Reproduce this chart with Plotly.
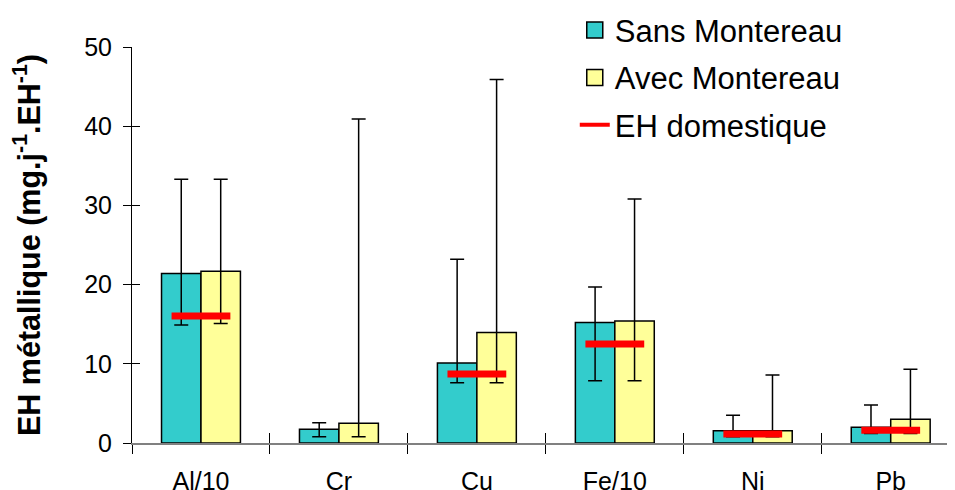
import plotly.graph_objects as go

categories = ["Al/10", "Cr", "Cu", "Fe/10", "Ni", "Pb"]
sans = [21.4, 1.75, 10.1, 15.2, 1.55, 2.0]
sans_hi = [33.3, 2.55, 23.2, 19.7, 3.5, 4.8]
sans_lo = [14.9, 0.8, 7.6, 7.85, 0.8, 1.2]
avec = [21.7, 2.5, 13.95, 15.4, 1.55, 3.0]
avec_hi = [33.3, 40.9, 45.9, 30.8, 8.6, 9.3]
avec_lo = [15.1, 0.8, 7.6, 7.85, 0.8, 1.2]
eh_dom = [16.05, None, 8.7, 12.5, 1.15, 1.6]
y_ticks = [0, 10, 20, 30, 40, 50]

FONT = "Liberation Sans, Arial, sans-serif"
TEAL = "#33CCCC"
YEL = "#FFFF99"


def err(v, hi, lo):
    return dict(type="data", symmetric=False,
                array=[h - x for h, x in zip(hi, v)],
                arrayminus=[x - l for l, x in zip(lo, v)],
                color="black", thickness=1.5, width=7)


fig = go.Figure()
fig.add_trace(go.Bar(x=categories, y=sans, name="Sans Montereau", showlegend=False,
                     marker=dict(color=TEAL, line=dict(color="black", width=1.5)),
                     error_y=err(sans, sans_hi, sans_lo)))
fig.add_trace(go.Bar(x=categories, y=avec, name="Avec Montereau", showlegend=False,
                     marker=dict(color=YEL, line=dict(color="black", width=1.5)),
                     error_y=err(avec, avec_hi, avec_lo)))
fig.add_trace(go.Scatter(x=categories, y=eh_dom, mode="markers", name="EH domestique",
                         showlegend=False,
                         marker=dict(symbol="line-ew", size=42, color="red",
                                     line=dict(color="red", width=7))))
# legend entries
fig.add_trace(go.Scatter(x=[categories[0]], y=[None], mode="markers", name="Sans Montereau",
                         legendgroup="a",
                         marker=dict(symbol="square", size=16, color=TEAL,
                                     line=dict(color="black", width=1.5))))
fig.add_trace(go.Scatter(x=[categories[0]], y=[None], mode="markers", name="Avec Montereau",
                         legendgroup="b",
                         marker=dict(symbol="square", size=16, color=YEL,
                                     line=dict(color="black", width=1.5))))
fig.add_trace(go.Scatter(x=[categories[0]], y=[None], mode="lines", name="EH domestique",
                         legendgroup="c",
                         line=dict(color="red", width=4)))
# helper trace for inner tick overlay axes
fig.add_trace(go.Scatter(x=categories, y=[0] * len(categories), xaxis="x2", yaxis="y2",
                         mode="markers", marker=dict(opacity=0), showlegend=False,
                         hoverinfo="skip"))

xr = [-0.5, 5.466]
fig.update_layout(
    width=947, height=482,
    margin=dict(l=124, r=0, t=39, b=47, autoexpand=False),
    paper_bgcolor="white", plot_bgcolor="white",
    barmode="group", bargap=0.428, bargroupgap=0,
    font=dict(family=FONT, color="black"),
    legend=dict(x=0.538, y=1.11, xanchor="left", yanchor="top",
                font=dict(size=31, family=FONT, color="black"),
                traceorder="grouped", tracegroupgap=4,
                bgcolor="rgba(0,0,0,0)"),
    xaxis=dict(type="category", categoryorder="array", categoryarray=categories,
               range=xr, tickson="boundaries", ticks="outside", ticklen=9,
               tickcolor="black", tickwidth=1, showline=True, linecolor="#808080",
               linewidth=2, showgrid=False, zeroline=False,
               tickfont=dict(size=25, family=FONT, color="black"),
               ticklabelstandoff=15),
    yaxis=dict(range=[0, 50], tickvals=y_ticks, ticks="outside", ticklen=8,
               tickcolor="black", tickwidth=1, showline=True, linecolor="black",
               linewidth=1, showgrid=False, zeroline=False,
               tickfont=dict(size=25, family=FONT, color="black"),
               ticklabelstandoff=6,
               title=dict(text="EH métallique (mg.j<sup>-1</sup>.EH<sup>-1</sup>)",
                          font=dict(size=30.5, family=FONT, color="black", weight="bold"),
                          standoff=38)),
    xaxis2=dict(type="category", categoryorder="array", categoryarray=categories,
                range=xr, overlaying="x", anchor="y", tickson="boundaries",
                ticks="inside", ticklen=10, tickcolor="black", tickwidth=1,
                showticklabels=False, showline=False, showgrid=False, zeroline=False),
    yaxis2=dict(range=[0, 50], tickvals=y_ticks, overlaying="y", anchor="x", side="left",
                ticks="inside", ticklen=8, tickcolor="black", tickwidth=1,
                showticklabels=False, showline=False, showgrid=False, zeroline=False),
)

fig.write_html("out.html")
